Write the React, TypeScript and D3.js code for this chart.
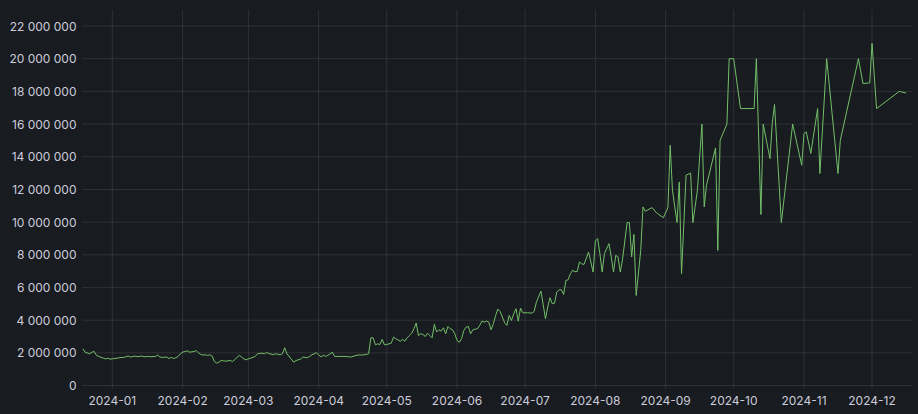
import React from "react";
import * as d3 from "d3";

const dates: string[] = [
  "2023-12-19","2023-12-20","2023-12-22","2023-12-23","2023-12-24","2023-12-25","2023-12-26","2023-12-28","2023-12-29","2023-12-30","2023-12-31",
  "2024-01-01","2024-01-03","2024-01-04","2024-01-06","2024-01-07","2024-01-08","2024-01-09","2024-01-11","2024-01-12","2024-01-14","2024-01-15",
  "2024-01-17","2024-01-18","2024-01-20","2024-01-21","2024-01-22","2024-01-23","2024-01-25","2024-01-26","2024-01-27","2024-01-28","2024-01-29",
  "2024-01-30","2024-01-31","2024-02-01","2024-02-02","2024-02-03","2024-02-04","2024-02-06","2024-02-07","2024-02-08","2024-02-09","2024-02-10",
  "2024-02-11","2024-02-12","2024-02-13","2024-02-14","2024-02-15","2024-02-16","2024-02-17","2024-02-18","2024-02-19","2024-02-20","2024-02-22",
  "2024-02-23","2024-02-24","2024-02-25","2024-02-26","2024-02-27","2024-02-28","2024-02-29","2024-03-01",
  "2024-03-02","2024-03-04","2024-03-05","2024-03-07","2024-03-08","2024-03-09","2024-03-10","2024-03-12","2024-03-13","2024-03-15","2024-03-16",
  "2024-03-17","2024-03-18","2024-03-21","2024-03-22","2024-03-24","2024-03-25","2024-03-27","2024-03-28","2024-03-29","2024-03-31","2024-04-01",
  "2024-04-02","2024-04-03","2024-04-04","2024-04-05","2024-04-07","2024-04-08","2024-04-10","2024-04-11","2024-04-13","2024-04-15","2024-04-17",
  "2024-04-19","2024-04-20","2024-04-22","2024-04-23","2024-04-24","2024-04-25","2024-04-26","2024-04-27","2024-04-28","2024-04-29","2024-04-30",
  "2024-05-01","2024-05-03","2024-05-04","2024-05-05","2024-05-07","2024-05-08","2024-05-09",
  "2024-05-10","2024-05-11","2024-05-12","2024-05-13","2024-05-14","2024-05-15","2024-05-16","2024-05-17","2024-05-18","2024-05-19","2024-05-20",
  "2024-05-21","2024-05-22","2024-05-23","2024-05-24","2024-05-25","2024-05-26","2024-05-27","2024-05-28","2024-05-29","2024-05-30","2024-05-31",
  "2024-06-01","2024-06-02","2024-06-03","2024-06-04","2024-06-05","2024-06-06","2024-06-07","2024-06-08","2024-06-09","2024-06-10","2024-06-11",
  "2024-06-12","2024-06-13","2024-06-14","2024-06-15","2024-06-16","2024-06-17","2024-06-18","2024-06-19","2024-06-20","2024-06-21","2024-06-22",
  "2024-06-23","2024-06-24","2024-06-25","2024-06-26","2024-06-27","2024-06-28","2024-06-29","2024-06-30","2024-07-01","2024-07-02","2024-07-04",
  "2024-07-05","2024-07-06","2024-07-08","2024-07-09","2024-07-10","2024-07-11","2024-07-12","2024-07-13","2024-07-14","2024-07-15","2024-07-16",
  "2024-07-17","2024-07-18","2024-07-19","2024-07-20","2024-07-21","2024-07-22","2024-07-23","2024-07-24","2024-07-25","2024-07-26","2024-07-27",
  "2024-07-29","2024-07-31","2024-08-01","2024-08-02","2024-08-03","2024-08-04","2024-08-05","2024-08-07","2024-08-08","2024-08-09","2024-08-10",
  "2024-08-11","2024-08-12","2024-08-13","2024-08-15","2024-08-16","2024-08-17","2024-08-18","2024-08-19","2024-08-21","2024-08-22","2024-08-23",
  "2024-08-26","2024-08-28","2024-08-31","2024-09-02","2024-09-03","2024-09-04","2024-09-06","2024-09-07","2024-09-08","2024-09-10","2024-09-12",
  "2024-09-13","2024-09-15","2024-09-17","2024-09-18","2024-09-19","2024-09-23","2024-09-24","2024-09-25","2024-09-28","2024-09-29","2024-10-01",
  "2024-10-04","2024-10-10","2024-10-11","2024-10-13","2024-10-14","2024-10-17","2024-10-18","2024-10-19","2024-10-22","2024-10-27","2024-10-31",
  "2024-11-01","2024-11-02","2024-11-04","2024-11-07","2024-11-08","2024-11-11","2024-11-16","2024-11-17","2024-11-25","2024-11-27","2024-11-30",
  "2024-12-01","2024-12-03","2024-12-13","2024-12-16",
];

// values in millions
const valuesM: number[] = [
  2.25,2.04,1.94,2.04,2.08,1.84,1.78,1.67,1.63,1.67,1.61,
  1.63,1.67,1.70,1.72,1.76,1.80,1.74,1.80,1.76,1.80,1.76,
  1.78,1.76,1.78,1.86,1.74,1.72,1.74,1.65,1.72,1.65,1.70,
  1.78,1.94,2.04,2.08,2.12,2.04,2.08,2.14,2.00,1.90,1.86,
  1.88,1.84,1.88,1.80,1.47,1.37,1.43,1.53,1.51,1.49,1.53,
  1.47,1.59,1.72,1.84,1.74,1.63,1.57,1.63,
  1.67,1.78,1.94,1.98,1.94,2.02,1.96,1.88,1.94,1.88,1.94,
  2.31,1.94,1.43,1.53,1.61,1.74,1.70,1.78,1.88,2.00,1.88,
  1.74,1.86,1.78,1.84,2.04,1.78,1.78,1.78,1.78,1.74,1.82,
  1.88,1.86,1.90,1.94,2.92,2.92,2.49,2.55,2.51,2.82,2.49,
  2.51,2.59,2.96,2.86,2.71,2.82,2.71,
  2.92,3.06,3.20,3.47,3.82,3.06,3.17,3.12,3.00,3.20,3.06,
  2.92,3.74,3.27,3.41,3.33,3.53,3.17,3.61,3.47,3.41,3.17,
  2.76,2.65,2.86,3.37,3.57,3.61,3.17,3.41,3.45,3.47,3.68,
  3.94,3.88,3.94,3.88,3.41,3.78,4.27,4.68,4.53,4.19,3.84,
  3.68,4.29,3.98,4.39,4.70,3.94,4.74,4.45,4.45,4.45,4.43,
  4.53,5.10,5.78,4.94,4.08,4.80,5.37,5.00,5.04,5.72,5.86,
  5.86,5.57,6.43,6.47,6.84,7.05,6.96,6.98,7.56,7.44,7.41,
  8.17,6.94,8.84,8.99,8.07,6.94,8.07,8.68,7.86,6.94,7.97,
  7.86,6.94,7.74,9.97,9.97,7.86,9.25,5.51,8.27,10.93,10.66,
  10.89,10.56,10.27,10.89,14.70,11.95,9.97,12.46,6.84,12.87,13.00,
  9.97,11.95,16.00,10.93,12.25,14.54,8.27,15.00,16.00,20.00,20.00,
  16.95,16.95,20.00,10.46,16.00,13.89,16.03,17.20,9.97,16.00,13.48,
  15.42,15.52,14.20,16.95,12.97,20.00,12.97,15.00,20.00,18.48,18.52,
  20.94,16.95,18.00,17.90,
];

const yTicks: number[] = [0, 2e6, 4e6, 6e6, 8e6, 10e6, 12e6, 14e6, 16e6, 18e6, 20e6, 22e6];
const xTickLabels: string[] = [
  "2024-01","2024-02","2024-03","2024-04","2024-05","2024-06",
  "2024-07","2024-08","2024-09","2024-10","2024-11","2024-12",
];
const timeRange: string[] = ["2023-12-18T15:00:00Z", "2024-12-18T15:00:00Z"];
const yMax = 23e6;

const W = 918;
const H = 414;
const left = 82;
const right = 912;
const top = 9.7;
const bottom = 385.5;

const BG = "#181b1f";
const GRID = "rgba(204,204,220,0.12)";
const TEXT = "#ccccdc";
const LINE = "#73BF69";

export default function App() {
  const x = d3.scaleUtc().domain(timeRange.map((s) => new Date(s))).range([left, right]);
  const y = d3.scaleLinear().domain([0, yMax]).range([bottom, top]);
  const parse = d3.utcParse("%Y-%m-%d");
  const data = dates.map((d, i) => ({ t: parse(d) as Date, v: valuesM[i] * 1e6 }));
  const line = d3
    .line<{ t: Date; v: number }>()
    .x((d) => x(d.t))
    .y((d) => y(d.v));
  const locale = d3.formatLocale({ decimal: ".", thousands: " ", grouping: [3], currency: ["", ""] });
  const fmt = locale.format(",d");
  const parseMonth = d3.utcParse("%Y-%m");
  const xTicks = xTickLabels.map((s) => ({ label: s, t: parseMonth(s) as Date }));

  return (
    <svg
      width={W}
      height={H}
      style={{ position: "absolute", left: 0, top: 0, background: BG, display: "block" }}
      fontFamily="Inter, 'Noto Sans', sans-serif"
    >
      <rect x={0} y={0} width={W} height={H} fill={BG} />
      <g>
        {yTicks.map((t) => (
          <line key={"gy" + t} x1={left} x2={right} y1={y(t)} y2={y(t)} stroke={GRID} strokeWidth={1} />
        ))}
        {xTicks.map((d) => (
          <line key={"gx" + d.label} x1={x(d.t)} x2={x(d.t)} y1={top} y2={bottom + 3.5} stroke={GRID} strokeWidth={1} />
        ))}
      </g>
      <defs>
        <clipPath id="plotclip">
          <rect x={left} y={top} width={right - left} height={bottom - top} />
        </clipPath>
      </defs>
      <path d={line(data) || ""} fill="none" stroke={LINE} strokeWidth={1} clipPath="url(#plotclip)" />
      <g fontSize={12} fill={TEXT}>
        {yTicks.map((t) => (
          <text key={"ly" + t} x={76.5} y={y(t)} textAnchor="end" dominantBaseline="central">
            {fmt(t)}
          </text>
        ))}
        {xTicks.map((d) => (
          <text key={"lx" + d.label} x={x(d.t)} y={400} textAnchor="middle" dominantBaseline="central">
            {d.label}
          </text>
        ))}
      </g>
    </svg>
  );
}
